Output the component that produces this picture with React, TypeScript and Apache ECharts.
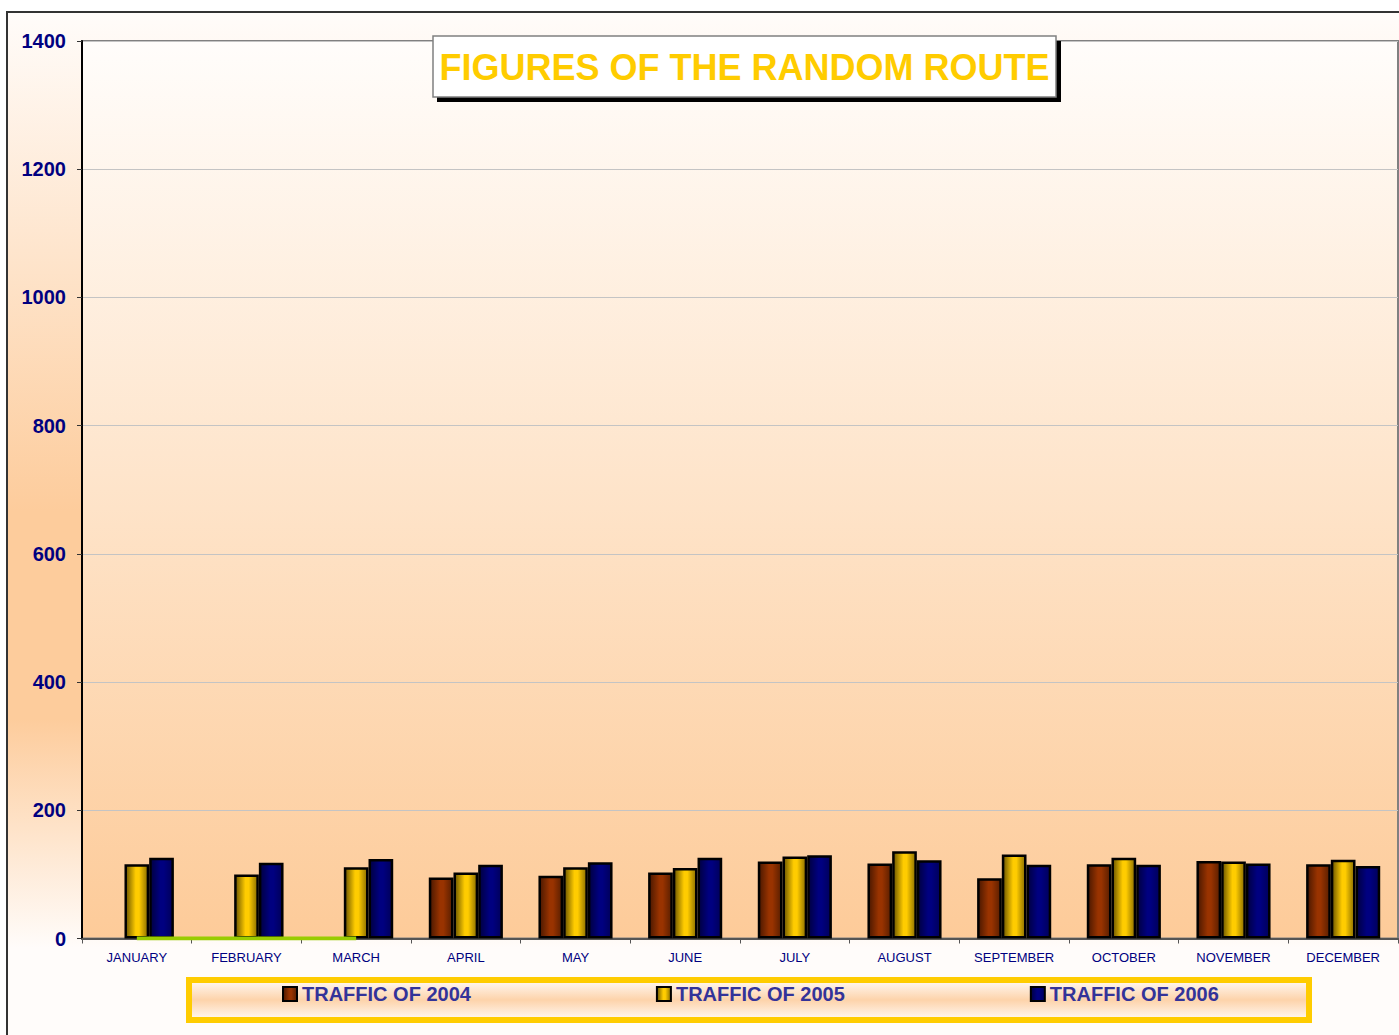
import React, { useEffect, useRef } from "react";
import * as echarts from "echarts";

const months = ["JANUARY", "FEBRUARY", "MARCH", "APRIL", "MAY", "JUNE", "JULY", "AUGUST", "SEPTEMBER", "OCTOBER", "NOVEMBER", "DECEMBER"];
const traffic2004: (number | null)[] = [null, null, null, 95, 98, 103, 120, 117, 94, 116, 121, 116];
const traffic2005 = [116, 100, 111, 103, 111, 110, 128, 136, 131, 126, 120, 123];
const traffic2006 = [126, 118, 124, 115, 119, 126, 130, 122, 115, 115, 117, 113];
const missingLine: (number | null)[] = [0, 0, 0, null, null, null, null, null, null, null, null, null];
const seriesNames = ["TRAFFIC OF 2004", "TRAFFIC OF 2005", "TRAFFIC OF 2006"];
const yTicks = { min: 0, max: 1400, interval: 200 };

const FONT = "Liberation Sans, Arial, sans-serif";

function barGrad(dark: string, base: string, right: string) {
  return new echarts.graphic.LinearGradient(0, 0, 1, 0, [
    { offset: 0, color: dark },
    { offset: 0.45, color: base },
    { offset: 0.6, color: base },
    { offset: 1, color: right },
  ]);
}

export default function App() {
  const ref = useRef<HTMLDivElement>(null);
  useEffect(() => {
    if (!ref.current) return;
    const chart = echarts.init(ref.current, undefined, { renderer: "svg" });
    const barCommon = {
      type: "bar" as const,
      barWidth: 24.7,
      barGap: "0%",
    };
    chart.setOption({
      animation: false,
      backgroundColor: "#ffffff",
      textStyle: { fontFamily: FONT },
      graphic: [
        {
          type: "rect",
          z: -10,
          shape: { x: 7, y: 12, width: 1400, height: 1040 },
          style: {
            fill: new echarts.graphic.LinearGradient(0, 0, 0, 1, [
              { offset: 0, color: "#fffcfa" },
              { offset: 0.48, color: "#fdcc9c" },
              { offset: 0.68, color: "#fdcc9c" },
              { offset: 0.9, color: "#fffcfa" },
              { offset: 1, color: "#fffcfa" },
            ]),
            stroke: "#333333",
            lineWidth: 2,
          },
        },
        {
          type: "rect",
          z: 10,
          shape: { x: 437, y: 41, width: 624, height: 61 },
          style: { fill: "#000000" },
        },
        {
          type: "rect",
          z: 11,
          shape: { x: 433, y: 36, width: 623, height: 61 },
          style: { fill: "#ffffff", stroke: "#808080", lineWidth: 1.5 },
        },
        {
          type: "text",
          z: 12,
          x: 744.5,
          y: 67,
          style: {
            text: "FIGURES OF THE RANDOM ROUTE",
            fill: "#ffcc00",
            font: `bold 36px ${FONT}`,
            align: "center",
            verticalAlign: "middle",
          },
        },
        {
          type: "rect",
          z: 1,
          shape: { x: 189, y: 980, width: 1120, height: 40 },
          style: {
            fill: new echarts.graphic.LinearGradient(0, 0, 0, 1, [
              { offset: 0, color: "#fffaf6" },
              { offset: 0.5, color: "#fdd3aa" },
              { offset: 1, color: "#fffaf6" },
            ]),
            stroke: "#ffcc00",
            lineWidth: 6,
          },
        },
      ],
      grid: {
        left: 82,
        top: 41,
        width: 1316,
        height: 897.5,
        show: true,
        borderColor: "#808080",
        borderWidth: 2,
        backgroundColor: new echarts.graphic.LinearGradient(0, 0, 0, 1, [
          { offset: 0, color: "#fffdfb" },
          { offset: 1, color: "#fdcb99" },
        ]),
      },
      legend: {
        data: seriesNames,
        left: 282,
        top: 984,
        padding: 0,
        itemWidth: 14,
        itemHeight: 14,
        itemGap: 185,
        icon: "rect",
        textStyle: { color: "#333399", fontWeight: "bold", fontSize: 20, fontFamily: FONT },
        z: 20,
      },
      xAxis: {
        type: "category",
        data: months,
        axisLine: { lineStyle: { color: "#555555", width: 2 } },
        axisTick: { show: true, length: 5, lineStyle: { color: "#555555" } },
        axisLabel: { color: "#000080", fontSize: 13, fontFamily: FONT, margin: 12 },
        splitLine: { show: false },
      },
      yAxis: {
        type: "value",
        min: yTicks.min,
        max: yTicks.max,
        interval: yTicks.interval,
        axisLine: { show: true, lineStyle: { color: "#000000", width: 2 } },
        axisTick: { show: true, length: 5, lineStyle: { color: "#333333" } },
        axisLabel: {
          color: "#000080",
          fontSize: 20,
          fontWeight: "bold",
          fontFamily: FONT,
          margin: 16,
          formatter: (v: number) => String(v),
        },
        splitLine: { show: true, lineStyle: { color: "#c4c4c4", width: 1 } },
      },
      series: [
        {
          ...barCommon,
          name: seriesNames[0],
          data: traffic2004,
          itemStyle: { color: barGrad("#4a1800", "#993300", "#5a1f00"), borderColor: "#000000", borderWidth: 2.5 },
        },
        {
          ...barCommon,
          name: seriesNames[1],
          data: traffic2005,
          itemStyle: { color: barGrad("#6b5500", "#ffcc00", "#8a6e00"), borderColor: "#000000", borderWidth: 2.5 },
        },
        {
          ...barCommon,
          name: seriesNames[2],
          data: traffic2006,
          itemStyle: { color: barGrad("#000040", "#000080", "#00005a"), borderColor: "#000000", borderWidth: 2.5 },
        },
        {
          type: "line",
          name: "missing",
          data: missingLine,
          symbol: "none",
          z: 5,
          lineStyle: { color: "#99cc00", width: 4 },
          itemStyle: { color: "#99cc00" },
        },
      ],
    });
    return () => chart.dispose();
  }, []);
  return <div ref={ref} style={{ position: "absolute", left: 0, top: 0, width: 1399, height: 1035 }} />;
}
